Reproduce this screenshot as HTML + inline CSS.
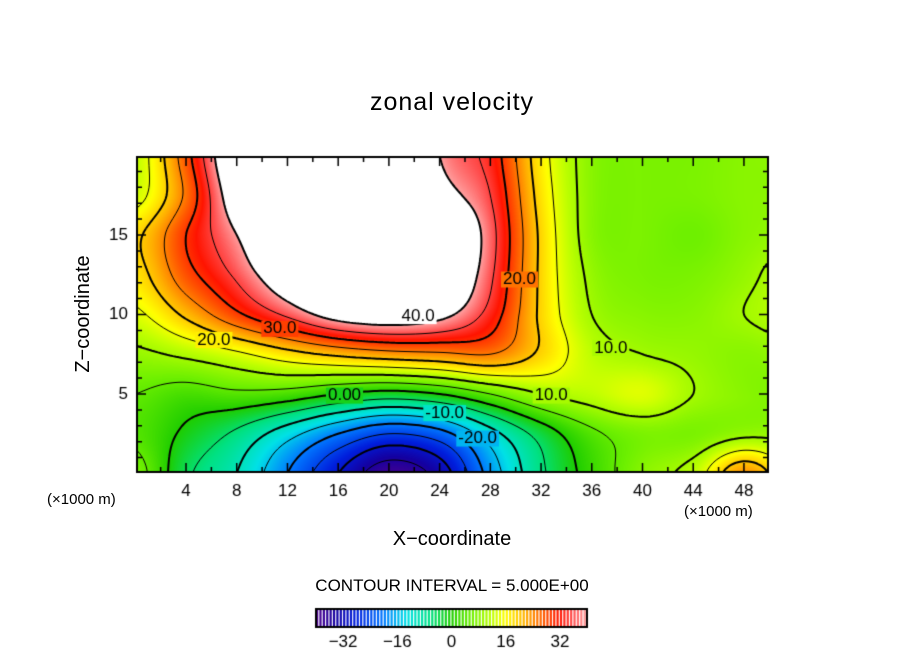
<!DOCTYPE html>
<html><head><meta charset="utf-8">
<style>
body{margin:0;background:#fff;width:904px;height:654px;overflow:hidden;position:relative;font-family:"Liberation Sans",sans-serif;}
.t{position:absolute;color:#000;white-space:nowrap;}
</style></head>
<body>
<div class="t" style="left:0;width:904px;text-align:center;top:88px;font-size:25px;letter-spacing:1px;">zonal velocity</div>
<canvas id="c" width="904" height="654" style="position:absolute;left:0;top:0"></canvas>
<div class="t" style="top:302px;width:180px;text-align:center;font-size:20px;transform:rotate(-90deg);transform-origin:90px 12px;left:-6px;">Z&#8722;coordinate</div>
<div class="t" style="left:0;width:904px;text-align:center;top:528px;font-size:20px;">X&#8722;coordinate</div>
<div class="t" style="left:47px;top:491px;font-size:15px;">(×1000 m)</div>
<div class="t" style="left:684px;top:503px;font-size:15px;">(×1000 m)</div>
<div class="t" style="left:0;width:904px;text-align:center;top:576px;font-size:17px;">CONTOUR INTERVAL = 5.000E+00</div>
<script>
const xs=[0,4,8,12,16,20,24,28,32,36,40,44,48,52];
const zs=[0,2.5,5,7.5,10,12.5,15,17.5,20];
const row0=[7,-4,-10,-20,-30,-38,-33,-18,-6,2,8,12,24,14];
const row1=[4,-1,-6,-13,-20,-25,-22,-12,-3,4,7,7,9,9];
const row2=[5,3,4,3,0,-2,0,5,10,12,14,10,8,7];
const row3=[9,11,14,18,21,23,24,25,19,12,10,9,8,9];
const row4=[14,21,29,36,43,45,42,33,19,10,8,8,10,12];
const row5=[18,28,36,46,55,56,50,36,19,9,7,7,9,12];
const row6=[19,30,40,52,58,58,52,37,19,8,7,6,8,9];
const row7=[13,26,45,56,60,60,44,35,18,8,7,7,8,8];
const row8=[12,28,48,55,58,58,40,33,17,8,7,7,8,8];
const grid=[row0,row1,row2,row3,row4,row5,row6,row7,row8];
const xTicks=[4,8,12,16,20,24,28,32,36,40,44,48];
const zTicks=[5,10,15];
const cbTicks=[-32,-16,0,16,32];
const contourLabels=[["40.0",22.3,9.9],["30.0",11.4,9.1],["20.0",6.2,8.4],["0.00",16.5,4.9],["-10.0",24.4,3.8],["-20.0",27.0,2.2],["20.0",30.3,12.2],["10.0",37.5,7.9],["10.0",32.8,4.9]];

const X0=135.3,SX=12.68,Z0=473.5,SZ=15.9;
const L=137,R=768,T=157,B=472;
const px=x=>X0+SX*x, pz=z=>Z0-SZ*z;
const ix=p=>(p-X0)/SX, iz=p=>(Z0-p)/SZ;
function cr(p0,p1,p2,p3,t){return 0.5*(2*p1+(-p0+p2)*t+(2*p0-5*p1+4*p2-p3)*t*t+(-p0+3*p1-3*p2+p3)*t*t*t);}
function g(r,c){r=Math.max(0,Math.min(zs.length-1,r));c=Math.max(0,Math.min(xs.length-1,c));return grid[r][c];}
function field(x,z){
  let fc=x/4, fr=z/2.5;
  let c=Math.floor(fc), r=Math.floor(fr); let tc=fc-c, tr=fr-r;
  const rows=[];
  for(let k=-1;k<=2;k++){rows.push(cr(g(r+k,c-1),g(r+k,c),g(r+k,c+1),g(r+k,c+2),tc));}
  return cr(rows[0],rows[1],rows[2],rows[3],tr);
}
const stops=[[-40,[80,0,140]],[-34,[20,0,160]],[-28,[0,30,220]],[-20,[0,120,255]],[-13,[0,225,230]],[-6,[0,225,130]],[0,[30,205,0]],[6,[110,240,0]],[12,[190,255,0]],[16,[255,255,0]],[22,[255,175,0]],[28,[255,80,0]],[32,[255,20,0]],[36,[255,80,80]],[40,[255,160,160]]];
function col(v){
  if(v>40) return [255,255,255];
  if(v<=-40) return stops[0][1];
  for(let i=1;i<stops.length;i++){if(v<=stops[i][0]){const a=stops[i-1],b=stops[i];const t=(v-a[0])/(b[0]-a[0]);return a[1].map((q,k)=>Math.round(q+(b[1][k]-q)*t));}}
  return stops[stops.length-1][1];
}
const cv=document.getElementById('c');const ctx=cv.getContext('2d');
const W=R-L,H=B-T;
const img=ctx.createImageData(W,H);
const F=[];
for(let j=0;j<=H;j++){F.push([]);for(let i=0;i<=W;i++){F[j].push(field(ix(L+i),iz(T+j)));}}
for(let j=0;j<H;j++)for(let i=0;i<W;i++){const c=col(F[j][i]);const o=(j*W+i)*4;img.data[o]=c[0];img.data[o+1]=c[1];img.data[o+2]=c[2];img.data[o+3]=255;}
ctx.putImageData(img,L,T);
const st=3;
for(let lev=-35;lev<=40;lev+=5){
  ctx.beginPath();
  for(let j=0;j+st<=H;j+=st)for(let i=0;i+st<=W;i+=st){
    const a=F[j][i],b=F[j][i+st],c=F[j+st][i+st],d=F[j+st][i];
    const pts=[];
    const e=(v1,v2,x1,y1,x2,y2)=>{if((v1<lev)!==(v2<lev)){const t=(lev-v1)/(v2-v1);pts.push([x1+(x2-x1)*t,y1+(y2-y1)*t]);}};
    e(a,b,i,j,i+st,j);e(b,c,i+st,j,i+st,j+st);e(c,d,i+st,j+st,i,j+st);e(d,a,i,j+st,i,j);
    for(let k=0;k+1<pts.length;k+=2){ctx.moveTo(L+pts[k][0],T+pts[k][1]);ctx.lineTo(L+pts[k+1][0],T+pts[k+1][1]);}
  }
  ctx.strokeStyle='#000';ctx.lineWidth=(lev%10===0)?2:1;
  ctx.setLineDash(lev<0?[5,4]:[]);
  ctx.stroke();
}
ctx.setLineDash([]);
ctx.font='17px "Liberation Sans", sans-serif';ctx.textAlign='center';ctx.textBaseline='middle';
contourLabels.forEach(l=>{const x=px(l[1]),y=pz(l[2]);const w=ctx.measureText(l[0]).width;ctx.fillStyle=`rgb(${col(field(l[1],l[2])).join(',')})`;ctx.fillRect(x-w/2-2,y-8,w+4,16);ctx.fillStyle='#000';ctx.fillText(l[0],x,y);});
ctx.lineWidth=2;ctx.strokeStyle='#000';ctx.strokeRect(L,T,W,H);
ctx.lineWidth=1.5;ctx.beginPath();
for(let x=2;x<50;x+=2){const p=px(x);const len=(x%4===0)?9:5;ctx.moveTo(p,B);ctx.lineTo(p,B-len);ctx.moveTo(p,T);ctx.lineTo(p,T+len);}
for(let z=1;z<20;z++){const p=pz(z);const len=(z%5===0)?9:5;ctx.moveTo(L,p);ctx.lineTo(L+len,p);ctx.moveTo(R,p);ctx.lineTo(R-len,p);}
ctx.stroke();
ctx.fillStyle='#000';ctx.font='17px "Liberation Sans", sans-serif';ctx.textBaseline='middle';
ctx.textAlign='center';xTicks.forEach(x=>ctx.fillText(String(x),px(x),491));
ctx.textAlign='right';zTicks.forEach(z=>ctx.fillText(String(z),128,pz(z)));
const cL=316,cR=587,cT=609,cB=627;
const n=80;const bw=(cR-cL)/n;
for(let k=0;k<n;k++){const v=-40+(k+0.5)*80/n;ctx.fillStyle=`rgb(${col(Math.min(v,39.9)).join(',')})`;ctx.fillRect(cL+k*bw,cT,bw*0.65,cB-cT);}
ctx.lineWidth=2;ctx.strokeStyle='#000';ctx.strokeRect(cL,cT,cR-cL,cB-cT);
ctx.fillStyle='#000';ctx.textAlign='center';ctx.font='17px "Liberation Sans", sans-serif';
cbTicks.forEach(v=>ctx.fillText((v<0?'\u2212':'')+Math.abs(v),cL+(v+40)/80*(cR-cL),642));
</script>
</body></html>
